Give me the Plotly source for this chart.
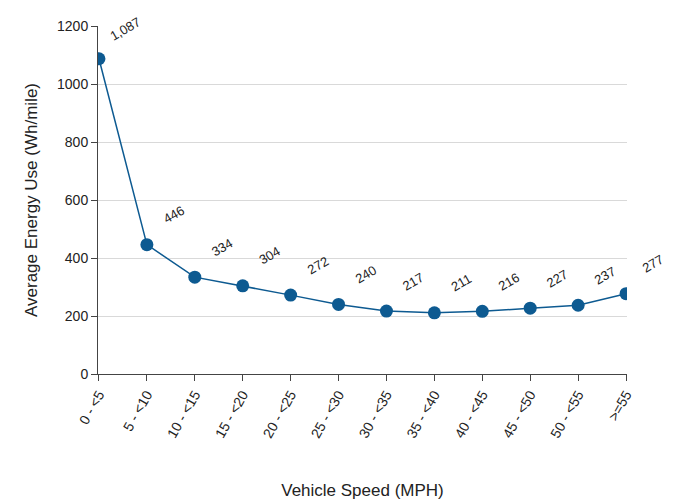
import plotly.graph_objects as go

categories = ["0 - <5", "5 - <10", "10 - <15", "15 - <20", "20 - <25", "25 - <30",
              "30 - <35", "35 - <40", "40 - <45", "45 - <50", "50 - <55", ">=55"]
values = [1087, 446, 334, 304, 272, 240, 217, 211, 216, 227, 237, 277]
labels = ["1,087", "446", "334", "304", "272", "240", "217", "211", "216", "227", "237", "277"]

color = "#0d5a91"
fig = go.Figure(go.Scatter(x=categories, y=values, mode="lines+markers",
                           line=dict(color=color, width=1.5),
                           marker=dict(size=13, color=color)))
for c, v, t in zip(categories, values, labels):
    fig.add_annotation(x=c, y=v, text=t, showarrow=False, textangle=-30,
                       xshift=27, yshift=30, font=dict(size=13, color="#222"))
fig.update_layout(
    width=683, height=500, plot_bgcolor="white", paper_bgcolor="white",
    font=dict(family="Liberation Sans, Arial", size=14, color="#222"),
    margin=dict(l=90, r=64, t=18, b=134, autoexpand=False), showlegend=False,
    xaxis=dict(title=dict(text="Vehicle Speed (MPH)", standoff=44), tickangle=-60,
               tickfont=dict(size=14),
               showgrid=False, showline=True, linecolor="#444", ticks="outside",
               ticklen=6, tickcolor="#444"),
    yaxis=dict(title="Average Energy Use (Wh/mile)", range=[0, 1200], dtick=200,
               gridcolor="#d9d9d9", showline=True, linecolor="#444", ticks="outside",
               ticklen=6, tickcolor="#444", zeroline=False),
)
fig.update_xaxes(range=[-0.02, 11.02])
fig.write_html("out.html")
